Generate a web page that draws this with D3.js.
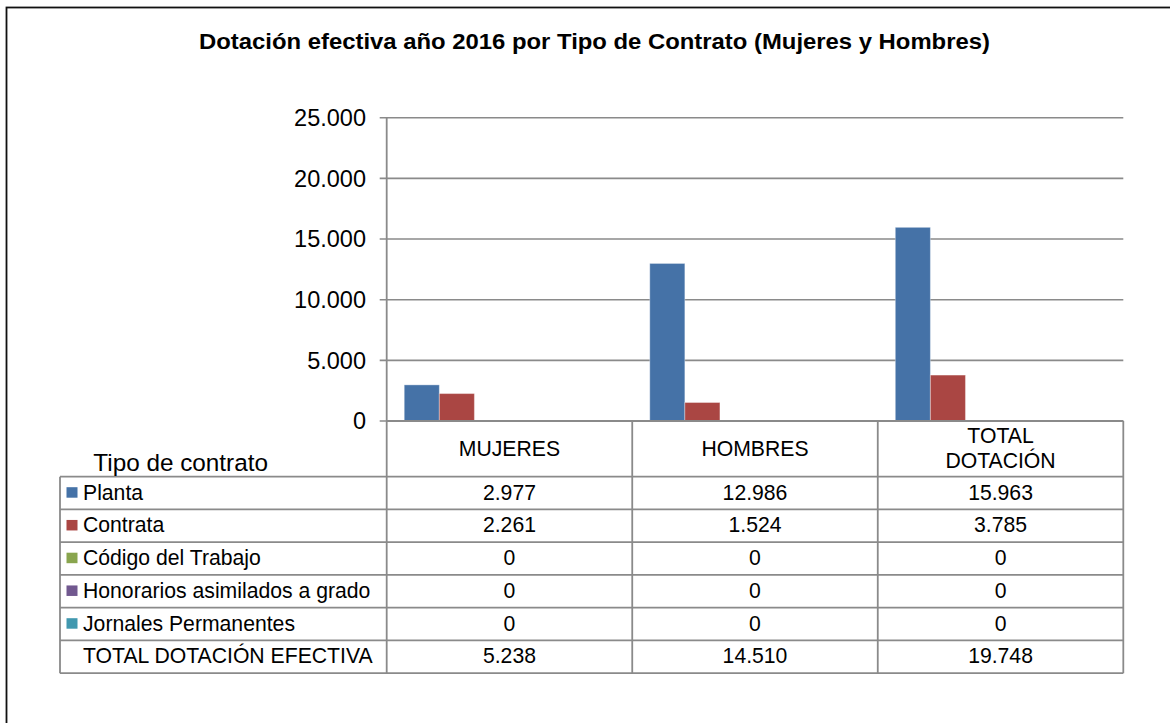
<!DOCTYPE html>
<html>
<head>
<meta charset="utf-8">
<script src="https://cdn.jsdelivr.net/npm/d3@7"></script>
<style>
  body { margin: 0; background: #fff; }
  svg text { font-family: "Liberation Sans", Arial, Helvetica, sans-serif; fill: #000; }
</style>
</head>
<body>
<div id="chart"></div>
<script>

var categories = ["MUJERES", "HOMBRES", "TOTAL DOTACIÓN"];
var seriesNames = ["Planta", "Contrata", "Código del Trabajo", "Honorarios asimilados a grado", "Jornales Permanentes", "TOTAL DOTACIÓN EFECTIVA"];
var planta = [2977, 12986, 15963];
var contrata = [2261, 1524, 3785];
var codigoTrabajo = [0, 0, 0];
var honorarios = [0, 0, 0];
var jornales = [0, 0, 0];
var totalDotacion = [5238, 14510, 19748];
var yTicks = [0, 5000, 10000, 15000, 20000, 25000];
var seriesColors = ["#4572A7", "#AA4643", "#89A54E", "#71588F", "#4198AF", "none"];

var seriesValues = [planta, contrata, codigoTrabajo, honorarios, jornales, totalDotacion];

var w = 1170,
    h = 723,
    plotLeft = 386.7,
    plotRight = 1123.3,
    plotTop = 117.7,
    zero = 421,
    headH = 55.7,
    rowH = 32.75,
    tableLeft = 60,
    lineCol = "#8a8a8a",
    cellFont = "21.2px";

var es = d3.formatLocale({decimal: ",", thousands: ".", grouping: [3], currency: ["$", ""]});
var fmt = es.format(",d");

var svg = d3.select("#chart").append("svg")
    .attr("width", w)
    .attr("height", h);

// outer frame (runs off the right and bottom edge)
svg.append("rect")
    .attr("x", 6.5).attr("y", 7.5)
    .attr("width", 1300).attr("height", 900)
    .attr("fill", "none")
    .attr("stroke", "#111")
    .attr("stroke-width", 1.8);

svg.append("text")
    .attr("transform", "translate(594.5,48.5) scale(1.11,1)")
    .attr("text-anchor", "middle")
    .style("font-size", "21.5px")
    .style("font-weight", "bold")
    .text("Dotación efectiva año 2016 por Tipo de Contrato (Mujeres y Hombres)");

var x0 = d3.scaleBand()
    .domain(categories)
    .range([plotLeft, plotRight])
    .padding(0);

var x1 = d3.scaleBand()
    .domain(seriesNames)
    .range([0, x0.bandwidth()])
    .paddingInner(0)
    .paddingOuter(0.5);

var y = d3.scaleLinear()
    .domain([0, 25000])
    .range([zero, plotTop]);

// gridlines
svg.append("g").selectAll("line")
    .data(yTicks)
    .enter().append("line")
    .attr("x1", plotLeft - 7)
    .attr("x2", plotRight)
    .attr("y1", function(d) { return y(d); })
    .attr("y2", function(d) { return y(d); })
    .attr("stroke", lineCol)
    .attr("stroke-width", 1.6);

svg.append("g").selectAll("text")
    .data(yTicks)
    .enter().append("text")
    .attr("x", 366)
    .attr("y", function(d) { return y(d) + 8.3; })
    .attr("text-anchor", "end")
    .style("font-size", "23.5px")
    .text(function(d) { return fmt(d); });

// bars
var groups = svg.append("g").selectAll("g")
    .data(categories)
    .enter().append("g")
    .attr("transform", function(d) { return "translate(" + x0(d) + ",0)"; });

groups.selectAll("rect")
    .data(function(c, ci) {
        return seriesNames.map(function(s, si) {
            return {name: s, value: seriesValues[si][ci], color: seriesColors[si]};
        }).filter(function(d) { return d.color != "none" && d.value > 0; });
    })
    .enter().append("rect")
    .attr("x", function(d) { return x1(d.name); })
    .attr("width", x1.bandwidth())
    .attr("y", function(d) { return y(d.value); })
    .attr("height", function(d) { return zero - y(d.value); })
    .attr("fill", function(d) { return d.color; })
    .attr("stroke", "#fff")
    .attr("stroke-opacity", 0.35)
    .attr("stroke-width", 1);

// data table
var tableTop = zero + headH;
var tableBottom = tableTop + rowH * seriesNames.length;
var tg = svg.append("g");

var hLines = [];
for (var i = 0; i <= seriesNames.length; i++) hLines.push(tableTop + i * rowH);

tg.append("line")
    .attr("x1", plotLeft).attr("x2", plotRight)
    .attr("y1", zero).attr("y2", zero)
    .attr("stroke", lineCol).attr("stroke-width", 1.8);

tg.selectAll("line.h")
    .data(hLines)
    .enter().append("line")
    .attr("class", "h")
    .attr("x1", tableLeft).attr("x2", plotRight)
    .attr("y1", function(d) { return d; })
    .attr("y2", function(d) { return d; })
    .attr("stroke", lineCol).attr("stroke-width", 1.8);

tg.append("line")
    .attr("x1", tableLeft).attr("x2", tableLeft)
    .attr("y1", tableTop).attr("y2", tableBottom)
    .attr("stroke", lineCol).attr("stroke-width", 1.8);

var vx = categories.map(function(c) { return x0(c) + x0.bandwidth(); });
tg.selectAll("line.v")
    .data(vx)
    .enter().append("line")
    .attr("class", "v")
    .attr("x1", function(d) { return d; })
    .attr("x2", function(d) { return d; })
    .attr("y1", zero).attr("y2", tableBottom)
    .attr("stroke", lineCol).attr("stroke-width", 1.8);

// y axis line, running through the table
svg.append("line")
    .attr("x1", plotLeft).attr("x2", plotLeft)
    .attr("y1", plotTop).attr("y2", tableBottom)
    .attr("stroke", lineCol).attr("stroke-width", 1.8);

// column headers
categories.forEach(function(c) {
    var cx = x0(c) + x0.bandwidth() / 2;
    var t = tg.append("text")
        .attr("text-anchor", "middle")
        .style("font-size", cellFont);
    if (c == "TOTAL DOTACIÓN") {
        t.append("tspan").attr("x", cx).attr("y", 443).text("TOTAL");
        t.append("tspan").attr("x", cx).attr("y", 467.5).text("DOTACIÓN");
    } else {
        t.attr("x", cx).attr("y", 456).text(c);
    }
});

tg.append("text")
    .attr("x", 93.3)
    .attr("y", 471)
    .style("font-size", "24.3px")
    .text("Tipo de contrato");

// rows
seriesNames.forEach(function(s, si) {
    var ry = tableTop + si * rowH;
    if (seriesColors[si] != "none") {
        tg.append("rect")
            .attr("x", 66.5).attr("y", ry + 10.5)
            .attr("width", 11).attr("height", 10.5)
            .attr("fill", seriesColors[si]);
    }
    tg.append("text")
        .attr("x", 83)
        .attr("y", ry + 23)
        .style("font-size", cellFont)
        .text(s);
    categories.forEach(function(c, ci) {
        tg.append("text")
            .attr("x", x0(c) + x0.bandwidth() / 2)
            .attr("y", ry + 23)
            .attr("text-anchor", "middle")
            .style("font-size", cellFont)
            .text(fmt(seriesValues[si][ci]));
    });
});

</script>
</body>
</html>
